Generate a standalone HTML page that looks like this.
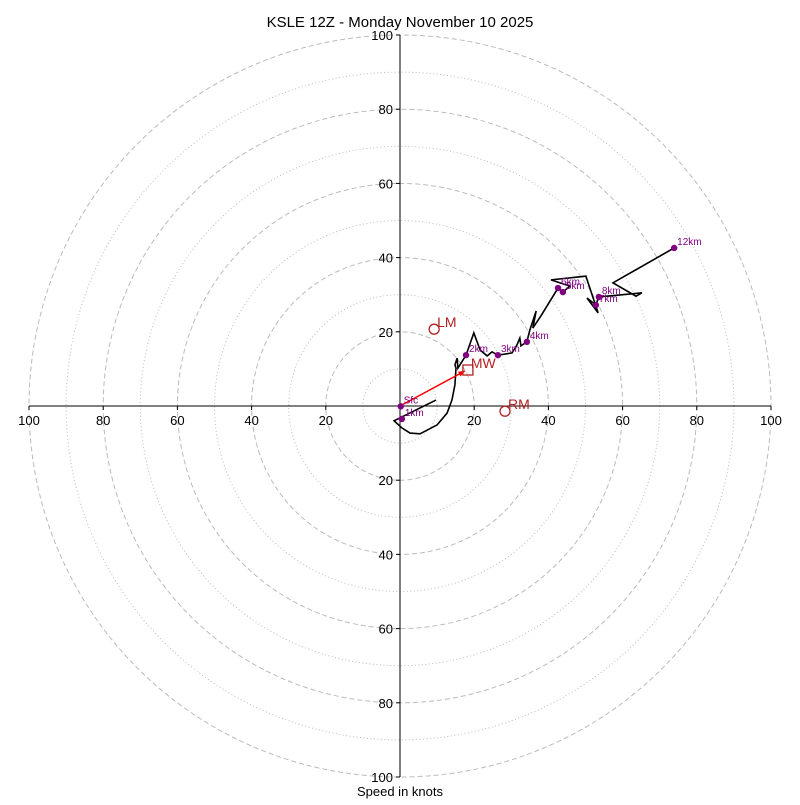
<!DOCTYPE html>
<html><head><meta charset="utf-8"><style>
body{margin:0;background:#fff}
svg{font-family:"Liberation Sans","DejaVu Sans",sans-serif}
</style></head><body>
<svg id="chart" width="800" height="800" viewBox="0 0 800 800" xmlns="http://www.w3.org/2000/svg">
<rect width="800" height="800" fill="#fff"/>
<text x="400" y="27" text-anchor="middle" font-size="15">KSLE 12Z - Monday November 10 2025</text>
<text x="400" y="796" text-anchor="middle" font-size="13">Speed in knots</text>
<g id="rings"></g><g id="axes"></g><g id="trace"></g><g id="marks"></g>
</svg>
<script>
const ringDashed=[20,40,60,80,100];
const ringDotted=[10,30,50,70,90];
const tickVals=[20,40,60,80,100];
const traceU=[9.7,-1.6,0.5,2.7,5.4,10.0,12.7,14.0,14.8,15.1,14.8,15.4,15.6,17.8,19.9,21.6,23.5,24.8,26.4,30.2,31.5,32.3,32.6,34.2,35.0,36.7,35.8,38.0,42.6,43.9,45.8,40.7,50.1,53.4,50.4,52.8,53.6,65.2,63.6,57.4,73.9];
const traceV=[1.6,-4.0,-5.9,-7.3,-7.5,-5.1,-1.9,1.6,5.7,10.2,11.1,12.9,10.2,13.7,19.7,15.1,13.5,14.6,13.7,14.3,16.4,18.3,16.2,17.3,20.5,25.6,21.0,24.3,31.8,30.7,32.3,34.0,35.0,25.1,29.1,27.2,29.4,30.5,29.6,33.2,42.6];
const levelLabels=["Sfc","1km","2km","3km","4km","6km","5km","7km","8km","12km"];
const levelU=[0.2,0.5,17.8,26.4,34.2,42.6,43.9,52.8,53.6,73.9];
const levelV=[-0.1,-3.5,13.7,13.7,17.3,31.8,30.7,27.2,29.4,42.6];
const motionLabels=["LM","MW","RM"];
const motionU=[9.2,18.3,28.3];
const motionV=[20.7,9.7,-1.4];
const NS="http://www.w3.org/2000/svg";
const cx=400,cy=406,k=3.71;
const X=u=>cx+u*k, Y=v=>cy-v*k, R=s=>s*k;
function mk(t,a,p){const e=document.createElementNS(NS,t);for(const n in a)e.setAttribute(n,a[n]);p.appendChild(e);return e;}
const rings=document.getElementById('rings');
ringDotted.forEach(s=>{const c=mk('circle',{cx:cx,cy:cy,r:R(s),fill:'none',stroke:'#bbb','stroke-width':1,'stroke-dasharray':'1,2.5'},rings);

});
ringDashed.forEach(s=>{const c=mk('circle',{cx:cx,cy:cy,r:R(s),fill:'none',stroke:'#bbb','stroke-width':1,'stroke-dasharray':'5,3'},rings);

});
const axes=document.getElementById('axes');
const hx=mk('line',{x1:X(-100),y1:cy,x2:X(100),y2:cy,stroke:'#000','stroke-width':1},axes);


const vy=mk('line',{x1:cx,y1:Y(100),x2:cx,y2:Y(-100),stroke:'#000','stroke-width':1},axes);


tickVals.forEach(s=>{[-1,1].forEach(sg=>{
 mk('line',{x1:X(sg*s),y1:cy,x2:X(sg*s),y2:cy+4,stroke:'#000'},axes);
 const t=mk('text',{x:X(sg*s),y:cy+19,'text-anchor':'middle','font-size':13},axes);t.textContent=s;
 
 
 mk('line',{x1:cx-4,y1:Y(sg*s),x2:cx,y2:Y(sg*s),stroke:'#000'},axes);
 const t2=mk('text',{x:cx-7,y:Y(sg*s)+5,'text-anchor':'end','font-size':13},axes);t2.textContent=s;
 
 
});});
const tr=document.getElementById('trace');
const pl=mk('polyline',{points:traceU.map((u,i)=>X(u)+','+Y(traceV[i])).join(' '),fill:'none',stroke:'#000','stroke-width':1.6,'stroke-linejoin':'miter'},tr);


const mw=1;
const ar=mk('line',{x1:X(0),y1:Y(0),x2:X(motionU[mw])-3,y2:Y(motionV[mw])+1,stroke:'red','stroke-width':1.5},tr);


{const ex=X(motionU[mw])-3,ey=Y(motionV[mw])+1,a=Math.atan2(ey-Y(0),ex-X(0));
const hd=mk('polygon',{points:[ex,ey,ex-7*Math.cos(a-0.4),ey-7*Math.sin(a-0.4),ex-7*Math.cos(a+0.4),ey-7*Math.sin(a+0.4)].join(','),fill:'red'},tr);

}
const mg=document.getElementById('marks');
levelLabels.forEach((l,i)=>{
 const c=mk('circle',{cx:X(levelU[i]),cy:Y(levelV[i]),r:3.2,fill:'purple'},mg);
 
 
 const t=mk('text',{x:X(levelU[i])+3,y:Y(levelV[i])-3,'font-size':10,fill:'purple'},mg);t.textContent=l;
 
 
});
motionLabels.forEach((l,i)=>{
 const x=X(motionU[i]),y=Y(motionV[i]);
 let m;
 if(l==='MW') m=mk('rect',{x:x-5,y:y-5,width:10,height:10,fill:'none',stroke:'#b22222','stroke-width':1.3},mg);
 else m=mk('circle',{cx:x,cy:y,r:5,fill:'none',stroke:'#b22222','stroke-width':1.3},mg);
 
 
 const t=mk('text',{x:x+3,y:y-2,'font-size':14,fill:'#b22222'},mg);t.textContent=l;
 
 
});
</script>
</body></html>
